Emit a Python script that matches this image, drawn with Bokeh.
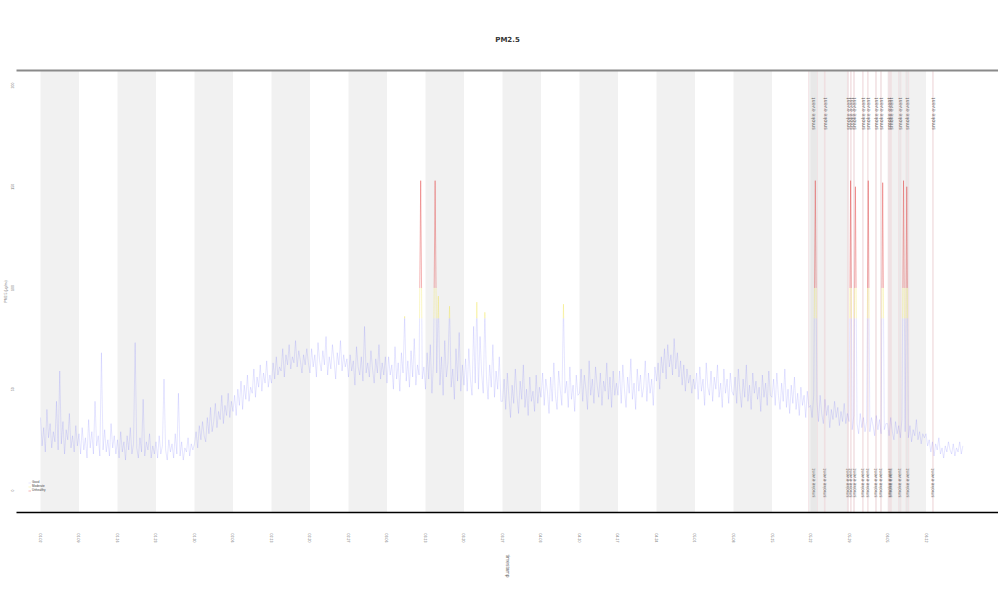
import math
from bokeh.plotting import figure
from bokeh.models import (ColumnDataSource, LinearAxis, FixedTicker, Range1d,
                          Legend, LegendItem, Title)
from bokeh.embed import file_html
from bokeh.resources import INLINE
from bokeh.core.properties import value

# ---------------- data ----------------
week_ticks = list(range(24))
week_labels = ["01-02", "01-09", "01-16", "01-23", "01-30", "02-06", "02-13", "02-20",
               "02-27", "03-06", "03-13", "03-20", "03-27", "04-03", "04-10", "04-17",
               "04-24", "05-01", "05-08", "05-15", "05-22", "05-29", "06-05", "06-12"]
y_ticks = [0, 50, 100, 150, 200]

# 24 readings per week
w00 = [36, 22, 31, 19, 40, 26, 33, 21, 29, 24, 44, 20, 59, 23, 34, 18, 30, 25, 38, 21, 27, 19, 32, 22]
w01 = [28, 18, 31, 20, 26, 16, 35, 21, 29, 18, 44, 22, 27, 17, 68, 20, 30, 19, 25, 17, 33, 21, 27, 18]
w02 = [25, 16, 29, 19, 24, 15, 27, 20, 31, 18, 23, 73, 21, 16, 26, 19, 45, 17, 24, 20, 28, 16, 22, 18]
w03 = [24, 16, 27, 18, 22, 55, 20, 15, 25, 19, 23, 16, 28, 18, 48, 17, 24, 15, 21, 19, 26, 17, 23, 20]
w04 = [23, 29, 21, 32, 25, 34, 27, 24, 36, 28, 41, 29, 34, 43, 31, 39, 35, 47, 33, 42, 37, 48, 36, 44]
w05 = [39, 47, 37, 50, 42, 54, 40, 52, 45, 57, 44, 51, 48, 60, 46, 56, 51, 62, 49, 58, 53, 64, 51, 57]
w06 = [53, 63, 55, 66, 57, 61, 59, 70, 56, 67, 62, 72, 60, 66, 63, 74, 61, 69, 64, 58, 67, 62, 70, 63]
w07 = [58, 70, 61, 67, 56, 73, 64, 59, 69, 62, 76, 57, 66, 60, 72, 64, 55, 68, 62, 74, 59, 67, 61, 65]
w08 = [56, 67, 59, 64, 52, 71, 61, 57, 66, 54, 81, 58, 63, 56, 69, 60, 53, 65, 58, 72, 55, 63, 57, 66]
w09 = [53, 66, 57, 62, 50, 71, 55, 63, 49, 68, 58, 86, 54, 64, 51, 69, 56, 75, 52, 62, 57, 153, 55, 61]
w10 = [50, 68, 55, 72, 48, 63, 153, 58, 96, 52, 66, 47, 74, 56, 63, 91, 51, 60, 45, 70, 54, 78, 49, 62]
w11 = [52, 65, 49, 70, 55, 47, 81, 53, 93, 50, 76, 58, 48, 88, 56, 45, 62, 51, 72, 46, 59, 50, 66, 44]
w12 = [44, 55, 40, 58, 46, 36, 52, 43, 60, 47, 38, 54, 45, 62, 41, 50, 37, 56, 44, 49, 39, 57, 43, 51]
w13 = [46, 58, 42, 55, 49, 38, 56, 44, 63, 47, 40, 59, 50, 42, 92, 48, 54, 41, 61, 45, 52, 39, 57, 47]
w14 = [48, 60, 44, 57, 50, 40, 64, 47, 55, 43, 61, 52, 46, 58, 42, 54, 49, 63, 45, 56, 41, 59, 47, 53]
w15 = [47, 59, 43, 62, 50, 41, 56, 48, 65, 45, 53, 40, 60, 49, 57, 46, 51, 64, 44, 58, 48, 55, 42, 61]
w16 = [54, 63, 50, 66, 58, 70, 55, 72, 61, 67, 57, 75, 60, 68, 56, 64, 52, 62, 49, 60, 53, 57, 48, 55]
w17 = [50, 58, 45, 61, 49, 55, 42, 63, 51, 47, 59, 44, 56, 50, 62, 46, 53, 41, 60, 48, 55, 43, 58, 49]
w18 = [47, 56, 43, 60, 49, 41, 55, 46, 62, 44, 52, 40, 58, 48, 54, 45, 51, 39, 57, 46, 53, 42, 59, 47]
w19 = [46, 55, 42, 58, 47, 40, 53, 44, 60, 41, 50, 38, 52, 43, 56, 40, 48, 37, 51, 42, 47, 36, 49, 41]
w20 = [42, 36, 47, 153, 44, 34, 47, 38, 33, 45, 37, 42, 31, 40, 35, 44, 36, 41, 32, 39, 34, 43, 33, 38]
w21 = [34, 153, 30, 37, 150, 33, 28, 38, 31, 36, 29, 34, 153, 29, 36, 32, 27, 37, 30, 35, 28, 152, 30, 33]
w22 = [33, 27, 36, 29, 25, 34, 28, 32, 26, 35, 153, 29, 150, 26, 32, 24, 30, 27, 35, 25, 29, 23, 28, 26]
w23 = [28, 22, 25, 19, 24, 17, 23, 20, 26, 18, 21, 16, 22, 19, 24, 20, 18, 23, 17, 21, 19, 24, 18, 22]
readings = (w00 + w01 + w02 + w03 + w04 + w05 + w06 + w07 + w08 + w09 + w10 + w11 +
            w12 + w13 + w14 + w15 + w16 + w17 + w18 + w19 + w20 + w21 + w22 + w23)
samples_per_week = 24

# events (in weeks)
event_start = [19.95, 20.36, 20.96, 21.04, 21.12, 21.35, 21.48, 21.69, 21.82, 22.03, 22.08, 22.29, 22.48, 23.17]
event_end   = [20.18, 20.38, 20.98, 21.06, 21.14, 21.37, 21.50, 21.71, 21.84, 22.05, 22.10, 22.35, 22.55, 23.19]
event_names = ["smoke event", "smoke event", "smoke event", "smoke event", "smoke event", "smoke event",
               "smoke event", "smoke event", "smoke event", "smoke event", "smoke event", "smoke event",
               "smoke event", "smoke event"]

band_limits = [85, 100]
band_colors = ["#3f3fff", "#efe03a", "#e23b3b"]
band_alpha = [0.22, 0.5, 0.65]
legend_names = ["Good", "Moderate", "Unhealthy"]

# ---------------- figure ----------------
Y0, Y1 = -10.9, 207.4
p = figure(width=998, height=592, output_backend="svg", toolbar_location=None,
           x_range=Range1d(-0.623, 24.883), y_range=Range1d(Y0, Y1),
           min_border_left=14, min_border_right=0, min_border_top=70, min_border_bottom=80,
           background_fill_color="white", border_fill_color="white")
p.outline_line_color = None
p.xgrid.visible = False
p.ygrid.visible = False

p.title = Title(text="PM2.5", align="center", text_font_size="7px",
                text_color="#333333", text_font="DejaVu Sans", standoff=54)

# alternating week bands
bl = [w for w in week_ticks if w % 2 == 0]
p.quad(left=bl, right=[w + 1 for w in bl], bottom=Y0, top=Y1,
       fill_color="#f1f1f1", line_color=None)

# event spans
p.quad(left=event_start, right=event_end, bottom=Y0, top=Y1,
       fill_color="#dcdcdc", fill_alpha=0.4, line_color="#f1dadd", line_width=0.6)

# colored line, split at band limits
xs = [i / samples_per_week for i in range(len(readings))]
segs = [dict(x0=[], y0=[], x1=[], y1=[]) for _ in band_colors]
for i in range(len(readings) - 1):
    xa, ya, xb, yb = xs[i], readings[i], xs[i + 1], readings[i + 1]
    pts = [(xa, ya)]
    for t in band_limits:
        if min(ya, yb) < t < max(ya, yb):
            f = (t - ya) / (yb - ya)
            pts.append((xa + f * (xb - xa), t))
    pts.append((xb, yb))
    pts.sort()
    for a, b in zip(pts, pts[1:]):
        mid = (a[1] + b[1]) / 2
        k = 0 if mid < band_limits[0] else (1 if mid < band_limits[1] else 2)
        segs[k]["x0"].append(a[0]); segs[k]["y0"].append(a[1])
        segs[k]["x1"].append(b[0]); segs[k]["y1"].append(b[1])

items = []
for k in range(3):
    r = p.segment(x0="x0", y0="y0", x1="x1", y1="y1", source=ColumnDataSource(segs[k]),
                  line_color=band_colors[k], line_alpha=band_alpha[k], line_width=0.6)
    items.append(LegendItem(label=legend_names[k], renderers=[r]))

# event labels
ex = [(a + b) / 2 for a, b in zip(event_start, event_end)]
p.text(x=ex, y=[194] * len(ex), text=event_names, angle=math.pi / 2,
       text_align="right", text_baseline="middle", text_font_size="5px",
       text_color="#666666", text_font=value("DejaVu Sans"))
p.text(x=ex, y=[-3.5] * len(ex), text=event_names, angle=math.pi / 2,
       text_align="left", text_baseline="middle", text_font_size="4.5px",
       text_color="#666666", text_font=value("DejaVu Sans"))

legend = Legend(items=items, location=(12, 20), label_text_font_size="3px",
                glyph_width=3, glyph_height=3, label_height=3, label_width=8,
                spacing=0, padding=1, margin=0, label_standoff=1,
                border_line_color=None, background_fill_alpha=0,
                label_text_color="#444444")
p.add_layout(legend)

# axes
xa_ = p.xaxis[0]
xa_.ticker = FixedTicker(ticks=week_ticks)
xa_.major_label_overrides = {w: l for w, l in zip(week_ticks, week_labels)}
xa_.major_label_orientation = "vertical"
xa_.major_label_text_font_size = "3.5px"
xa_.major_label_text_color = "#666666"
xa_.major_tick_out = 0
xa_.major_tick_in = 0
xa_.minor_tick_out = 0
xa_.minor_tick_in = 0
xa_.major_label_standoff = 21
xa_.axis_line_color = "black"
xa_.axis_line_width = 1.5
xa_.axis_label = "timestamp"
xa_.axis_label_text_font_size = "5px"
xa_.axis_label_text_font_style = "normal"
xa_.axis_label_text_color = "#666666"
xa_.axis_label_standoff = 9
xa_.axis_label_orientation = "vertical"

ya_ = p.yaxis[0]
ya_.ticker = FixedTicker(ticks=y_ticks)
ya_.major_label_orientation = "vertical"
ya_.major_label_text_font_size = "3.5px"
ya_.major_label_text_color = "#777777"
ya_.major_tick_out = 0
ya_.major_tick_in = 0
ya_.minor_tick_out = 0
ya_.minor_tick_in = 0
ya_.major_label_standoff = 2
ya_.axis_line_color = None
ya_.axis_label = "PM2.5 (µg/m³)"
ya_.axis_label_text_font_size = "3.5px"
ya_.axis_label_text_font_style = "normal"
ya_.axis_label_text_color = "#777777"
ya_.axis_label_standoff = 1

top_axis = LinearAxis(ticker=FixedTicker(ticks=[]), major_label_text_font_size="0px",
                      major_tick_out=0, minor_tick_out=0, axis_line_color="#8a8a8a",
                      axis_line_width=2)
p.add_layout(top_axis, "above")

open("out.html", "w").write(file_html(p, INLINE))
